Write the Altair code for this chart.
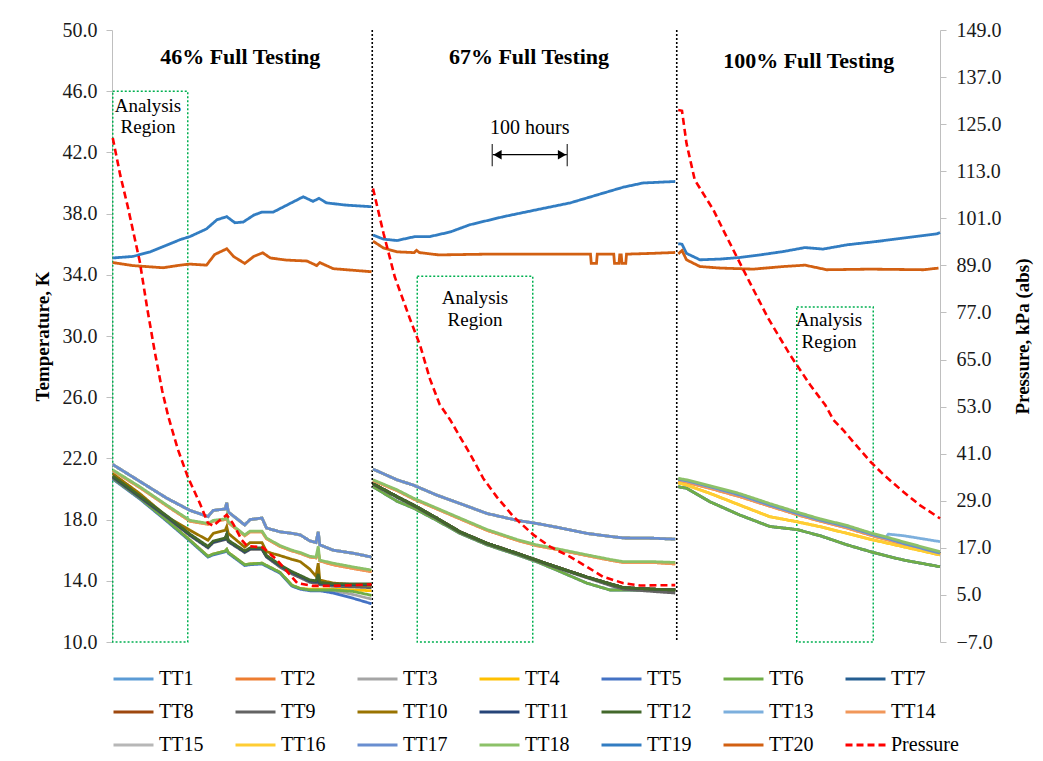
import altair as alt
import pandas as pd

FONT = "Liberation Serif"

SERIES = [f"TT{i}" for i in range(1, 21)]
COLORS = ["#5B9BD5", "#ED7D31", "#A5A5A5", "#FFC000", "#4472C4", "#70AD47", "#255E91",
          "#9E480E", "#636363", "#997300", "#264478", "#43682B", "#7CAFDD", "#F1975A",
          "#B7B7B7", "#FFCD33", "#698ED0", "#8CC168", "#327DC2", "#D26012"]
PRESSURE_NAME = "Pressure"
PRESSURE_COLOR = "#FF0000"

# ---------------- Section 1 (46% full) : lower bundle ----------------
S1_H = [1, 37, 73, 104, 128, 135, 151, 153, 155, 177, 184, 200, 206, 224, 240, 251, 264, 272, 275, 277, 295, 322, 346]
S1_TOP = [21.6, 20.5, 19.4, 18.6, 18.2, 18.6, 18.7, 19.1, 18.5, 17.65, 18.0, 18.1, 17.45, 17.2, 17.1, 17.0, 16.6, 16.5, 17.2, 16.35, 16.0, 15.8, 15.55]
S1_GREEN = [21.25, 20.15, 18.95, 17.95, 17.75, 17.95, 18.05, 18.3, 17.85, 17.0, 17.25, 17.25, 16.8, 16.3, 16.0, 15.85, 15.6, 15.55, 16.25, 15.35, 15.15, 14.9, 14.7]
S1_ORANGE = [21.2, 20.1, 18.9, 17.9, 17.7, 17.9, 18.0, 18.15, 17.8, 16.95, 17.2, 17.2, 16.75, 16.25, 15.95, 15.8, 15.55, 15.5, 15.9, 15.3, 15.05, 14.8, 14.6]
S1_TT10 = [21.0, 19.7, 18.2, 17.3, 16.65, 17.1, 17.3, 17.55, 17.1, 16.2, 16.5, 16.5, 15.9, 15.65, 15.4, 15.25, 14.75, 14.3, 15.15, 14.05, 13.85, 13.75, 13.7]
S1_DARK = [20.8, 19.5, 18.2, 17.0, 16.2, 16.55, 16.75, 17.0, 16.6, 15.9, 16.1, 16.1, 15.6, 15.0, 14.55, 14.3, 14.0, 13.95, 14.0, 13.85, 13.75, 13.75, 13.75]
S1_TT12 = [20.85, 19.55, 18.25, 17.05, 16.25, 16.6, 16.8, 17.05, 16.65, 15.95, 16.15, 16.15, 15.65, 15.05, 14.6, 14.35, 14.05, 14.0, 14.45, 13.9, 13.8, 13.8, 13.8]
S1_GRAY = [20.75, 19.45, 18.15, 16.95, 16.15, 16.5, 16.7, 16.9, 16.55, 15.85, 16.05, 16.05, 15.55, 14.9, 14.45, 14.2, 13.9, 13.85, 13.85, 13.75, 13.65, 13.6, 13.55]
S1_BOT_GREEN = [20.7, 19.4, 17.95, 16.65, 15.6, 15.75, 15.95, 16.05, 15.85, 15.05, 15.1, 15.15, 15.0, 14.55, 13.7, 13.5, 13.4, 13.4, 13.4, 13.4, 13.4, 13.3, 13.05]
S1_BOT_BLUE = [20.65, 19.35, 17.9, 16.6, 15.55, 15.7, 15.9, 16.0, 15.8, 15.0, 15.05, 15.1, 14.95, 14.5, 13.65, 13.45, 13.35, 13.35, 13.35, 13.35, 13.2, 12.85, 12.5]
S1_BOT_GRAY = [20.7, 19.4, 17.95, 16.65, 15.6, 15.75, 15.95, 16.05, 15.85, 15.05, 15.1, 15.15, 15.0, 14.55, 13.7, 13.5, 13.4, 13.4, 13.4, 13.4, 13.35, 13.1, 12.8]
S1_BOT_GOLD = [20.7, 19.4, 17.95, 16.65, 15.6, 15.75, 15.95, 16.05, 15.85, 15.05, 15.1, 15.15, 15.0, 14.55, 13.7, 13.5, 13.45, 13.45, 13.45, 13.45, 13.45, 13.4, 13.35]

# ---------------- Section 2 (67% full) : lower bundle ----------------
S2_H = [348, 380, 402, 433, 464, 500, 540, 566, 593, 633, 664, 682, 722, 751]
S2_TOP = [21.3, 20.6, 20.25, 19.6, 19.05, 18.4, 17.95, 17.75, 17.5, 17.1, 16.9, 16.8, 16.78, 16.72]
S2_GREEN = [20.6, 19.95, 19.4, 18.75, 18.1, 17.35, 16.7, 16.35, 16.1, 15.7, 15.4, 15.25, 15.25, 15.2]
S2_ORANGE = [20.55, 19.9, 19.35, 18.7, 18.05, 17.3, 16.65, 16.3, 16.05, 15.65, 15.35, 15.2, 15.2, 15.1]
S2_DARK = [20.35, 19.5, 18.95, 18.1, 17.2, 16.45, 15.8, 15.35, 14.9, 14.25, 13.8, 13.55, 13.45, 13.4]
S2_GRAY = [20.3, 19.45, 18.9, 18.05, 17.15, 16.4, 15.75, 15.3, 14.85, 14.2, 13.7, 13.45, 13.3, 13.2]
S2_BOT = [20.15, 19.2, 18.75, 17.95, 17.1, 16.35, 15.7, 15.25, 14.7, 13.85, 13.4, 13.4, 13.4, 13.4]

# ---------------- Section 3 (100% full) : lower bundle ----------------
S3_H = [755, 766, 797, 837, 877, 913, 944, 980, 1015, 1031, 1035, 1055, 1104]
S3_TOP = [20.63, 20.54, 20.15, 19.61, 18.95, 18.41, 17.97, 17.54, 17.0, 16.8, 16.75, 16.45, 15.8]
S3_GREEN = [20.7, 20.6, 20.22, 19.7, 19.05, 18.5, 18.05, 17.62, 17.08, 16.88, 16.83, 16.55, 15.9]
S3_ORANGE = [20.55, 20.45, 20.05, 19.5, 18.88, 18.33, 17.9, 17.45, 16.93, 16.72, 16.67, 16.38, 15.7]
S3_GOLD = [20.4, 20.26, 19.72, 18.95, 18.19, 17.86, 17.54, 17.1, 16.67, 16.5, 16.45, 16.23, 15.69]
S3_TT13 = [20.63, 20.54, 20.15, 19.61, 18.95, 18.41, 17.97, 17.54, 17.0, 16.8, 17.05, 16.95, 16.56]
S3_BOT = [20.15, 20.05, 19.17, 18.3, 17.55, 17.35, 16.95, 16.35, 15.85, 15.65, 15.6, 15.36, 14.92]

# ---------------- TT19 / TT20 (upper pair) ----------------
TT19_S1_H = [1, 28, 51, 71, 91, 104, 126, 140, 153, 164, 175, 189, 200, 215, 233, 255, 268, 276, 286, 313, 346]
TT19_S1 = [35.1, 35.2, 35.5, 35.9, 36.3, 36.5, 37.0, 37.6, 37.8, 37.4, 37.45, 37.9, 38.1, 38.1, 38.55, 39.1, 38.8, 39.0, 38.7, 38.55, 38.45]
TT20_S1_H = [1, 28, 68, 91, 104, 126, 137, 153, 162, 177, 189, 201, 211, 233, 260, 273, 277, 295, 346]
TT20_S1 = [34.8, 34.6, 34.46, 34.63, 34.7, 34.63, 35.33, 35.7, 35.2, 34.74, 35.2, 35.44, 35.1, 34.96, 34.9, 34.6, 34.8, 34.4, 34.2]

TT19_S2_H = [348, 362, 380, 404, 424, 451, 477, 522, 566, 611, 655, 682, 708, 751]
TT19_S2 = [36.6, 36.33, 36.24, 36.5, 36.5, 36.8, 37.27, 37.8, 38.25, 38.7, 39.34, 39.73, 40.0, 40.1]
TT20_S2_H = [348, 362, 380, 403, 406, 410, 436, 500, 600, 638, 639, 646, 647, 669, 670, 676, 677, 679, 680, 685, 686, 720, 751]
TT20_S2 = [36.2, 35.75, 35.5, 35.45, 35.6, 35.45, 35.3, 35.35, 35.35, 35.35, 34.75, 34.75, 35.35, 35.35, 34.75, 34.75, 35.3, 35.3, 34.75, 34.75, 35.35, 35.4, 35.46]

TT19_S3_H = [755, 760, 766, 784, 811, 837, 864, 895, 924, 948, 980, 1020, 1055, 1100, 1104]
TT19_S3 = [36.03, 36.0, 35.4, 34.98, 35.03, 35.13, 35.3, 35.52, 35.78, 35.68, 35.96, 36.18, 36.4, 36.68, 36.76]
TT20_S3_H = [755, 760, 766, 784, 811, 855, 895, 924, 953, 1011, 1082, 1102]
TT20_S3 = [35.37, 35.59, 34.98, 34.54, 34.44, 34.37, 34.54, 34.63, 34.33, 34.37, 34.33, 34.44]

# ---------------- Pressure (right axis, kPa abs) ----------------
P_S1_H = [1, 11, 21, 37, 47, 57, 67, 75, 88, 101, 117, 128, 135, 144, 153, 161, 173, 180, 201, 220, 247, 268, 295, 321, 346]
P_S1 = [121.5, 112, 104, 90, 78, 67, 57, 50.5, 42, 35.1, 28.4, 23.3, 22.6, 24.1, 25.4, 23.3, 19, 17.5, 17.1, 13.9, 8, 7.3, 7.3, 7.5, 7.7]
P_S2_H = [348, 362, 377, 397, 411, 424, 437, 451, 464, 477, 495, 513, 535, 562, 584, 611, 633, 655, 682, 704, 751]
P_S2 = [108.6, 97.2, 86.1, 75.5, 68.5, 60, 53.5, 49.6, 45.3, 41.1, 34.7, 30.0, 25.0, 20.3, 17.3, 14.7, 12.2, 9.6, 8.0, 7.4, 7.5]
P_S3_H = [755, 760, 766, 777, 788, 802, 815, 833, 851, 875, 904, 931, 951, 962, 975, 988, 1011, 1029, 1055, 1077, 1104]
P_S3 = [128.6, 128.4, 120.1, 110.8, 107.4, 103.1, 98.0, 91.2, 84.4, 75.5, 66.2, 58.5, 53.4, 49.6, 47.0, 44.1, 39.0, 35.6, 31.3, 27.9, 24.5]

# ---------------- Annotations ----------------
DIVIDERS_H = [347, 753]
TITLES = ["46% Full Testing", "67% Full Testing", "100% Full Testing"]
TITLE_H = [171, 556, 929]
TITLE_T = [48.25, 48.25, 47.95]
REGION_H1 = [1, 407, 913]
REGION_H2 = [101, 561, 1015]
REGION_TOP = [46.0, 33.9, 31.9]
REGION_BOTTOM = [10.0, 10.0, 10.0]
REGION_LABEL_H = [48, 484, 956]
REGION_LABEL_T1 = [45.05, 32.5, 31.06]
REGION_LABEL_T2 = [43.67, 31.06, 29.6]
SPAN_H1, SPAN_H2, SPAN_T = 507, 607, 41.85
SPAN_TICK_T = [42.55, 41.1]
SPAN_LABEL_T = 43.6

# ---------------- series -> profile per section ----------------
SEC1 = {"TT1": S1_TOP, "TT2": S1_ORANGE, "TT3": S1_BOT_GRAY, "TT4": S1_BOT_GOLD, "TT5": S1_BOT_BLUE,
        "TT6": S1_BOT_GREEN, "TT7": S1_DARK, "TT8": S1_DARK, "TT9": S1_GRAY, "TT10": S1_TT10,
        "TT11": S1_DARK, "TT12": S1_TT12, "TT13": S1_TOP, "TT14": S1_ORANGE, "TT15": S1_TOP,
        "TT16": S1_TOP, "TT17": S1_TOP, "TT18": S1_GREEN}
SEC2 = {"TT1": S2_TOP, "TT2": S2_ORANGE, "TT3": S2_DARK, "TT4": S2_DARK, "TT5": S2_BOT,
        "TT6": S2_BOT, "TT7": S2_DARK, "TT8": S2_DARK, "TT9": S2_GRAY, "TT10": S2_DARK,
        "TT11": S2_DARK, "TT12": S2_DARK, "TT13": S2_TOP, "TT14": S2_ORANGE, "TT15": S2_TOP,
        "TT16": S2_TOP, "TT17": S2_TOP, "TT18": S2_GREEN}
SEC3 = {"TT1": S3_TOP, "TT2": S3_ORANGE, "TT3": S3_BOT, "TT4": S3_GOLD, "TT5": S3_BOT,
        "TT6": S3_BOT, "TT7": S3_TOP, "TT8": S3_TOP, "TT9": S3_TOP, "TT10": S3_TOP,
        "TT11": S3_TOP, "TT12": S3_TOP, "TT13": S3_TT13, "TT14": S3_ORANGE, "TT15": S3_TOP,
        "TT16": S3_GOLD, "TT17": S3_TOP, "TT18": S3_GREEN}

rows = []


def add(series, section, hs, vals):
    for h, v in zip(hs, vals):
        rows.append({"series": series, "section": section, "h": h, "T": v})


for s in SERIES:
    if s == "TT19":
        add(s, 1, TT19_S1_H, TT19_S1)
        add(s, 2, TT19_S2_H, TT19_S2)
        add(s, 3, TT19_S3_H, TT19_S3)
    elif s == "TT20":
        add(s, 1, TT20_S1_H, TT20_S1)
        add(s, 2, TT20_S2_H, TT20_S2)
        add(s, 3, TT20_S3_H, TT20_S3)
    else:
        add(s, 1, S1_H, SEC1[s])
        add(s, 2, S2_H, SEC2[s])
        add(s, 3, S3_H, SEC3[s])
temps = pd.DataFrame(rows)

prow = []
for sec, hs, ps in [(1, P_S1_H, P_S1), (2, P_S2_H, P_S2), (3, P_S3_H, P_S3)]:
    for h, p in zip(hs, ps):
        prow.append({"series": PRESSURE_NAME, "section": sec, "h": h, "P": p})
pres = pd.DataFrame(prow)

# ---------------- encodings ----------------
DOMAIN = SERIES + [PRESSURE_NAME]
x_enc = alt.X("h:Q", scale=alt.Scale(domain=[0, 1104], nice=False, zero=False), axis=None)

left_axis = alt.Axis(values=list(range(10, 51, 4)), format=".1f", title="Temperature, K",
                     titleFont=FONT, titleFontSize=19, titleFontWeight="bold", titleColor="#000000",
                     titlePadding=10, labelFont=FONT, labelFontSize=20, labelColor="#1a1a1a",
                     domainColor="#BFBFBF", tickColor="#BFBFBF", tickSize=6, labelPadding=9, grid=False)
y_left = alt.Y("T:Q", scale=alt.Scale(domain=[10, 50], nice=False, zero=False), axis=left_axis)

right_axis = alt.Axis(values=list(range(-7, 150, 12)), format=".1f", title="Pressure, kPa (abs)",
                      orient="right", titleAngle=270, titleBaseline="top",
                      titleFont=FONT, titleFontSize=19, titleFontWeight="bold", titleColor="#000000",
                      titlePadding=12, labelFont=FONT, labelFontSize=20, labelColor="#1a1a1a",
                      domainColor="#BFBFBF", tickColor="#BFBFBF", tickSize=6, labelPadding=10, grid=False)
y_right = alt.Y("P:Q", scale=alt.Scale(domain=[-7, 149], nice=False, zero=False), axis=right_axis)

legend = alt.Legend(title=None, orient="none", legendX=0, legendY=639, columns=7, direction="horizontal",
                    gridAlign="all", columnPadding=7, rowPadding=13, symbolType="stroke", symbolSize=1600,
                    symbolStrokeWidth=3, clipHeight=20, labelFont=FONT, labelFontSize=20,
                    labelColor="#000000", labelOffset=4)
color_enc = alt.Color("series:N", scale=alt.Scale(domain=DOMAIN, range=COLORS + [PRESSURE_COLOR]), legend=legend)
dash_enc = alt.StrokeDash("series:N", scale=alt.Scale(domain=DOMAIN, range=[[1, 0]] * 20 + [[7, 4]]), legend=legend)

temp_lines = alt.Chart(temps).mark_line(strokeWidth=2.8).encode(
    x=x_enc, y=y_left, color=color_enc, strokeDash=dash_enc, detail="section:N")

pres_lines = alt.Chart(pres).mark_line(strokeWidth=2.6).encode(
    x=x_enc, y=y_right, color=color_enc, strokeDash=dash_enc, detail="section:N")

div_df = pd.DataFrame({"h": DIVIDERS_H})
dividers = alt.Chart(div_df).mark_rule(color="#000000", strokeDash=[2, 2], strokeWidth=1.6).encode(x=x_enc)

reg_df = pd.DataFrame({"h": REGION_H1, "h2": REGION_H2, "T": REGION_TOP, "T2": REGION_BOTTOM})
regions = alt.Chart(reg_df).mark_rect(fill="transparent", stroke="#00B050", strokeDash=[2, 2],
                                      strokeWidth=1.5).encode(x=x_enc, x2="h2:Q", y=y_left, y2="T2:Q")

lab_df = pd.DataFrame({"h": REGION_LABEL_H * 2,
                       "T": REGION_LABEL_T1 + REGION_LABEL_T2,
                       "label": ["Analysis"] * 3 + ["Region"] * 3})
region_labels = alt.Chart(lab_df).mark_text(font=FONT, fontSize=19, color="#000000", align="center",
                                            baseline="middle").encode(x=x_enc, y=y_left, text="label:N")

tit_df = pd.DataFrame({"h": TITLE_H, "T": TITLE_T, "label": TITLES})
titles = alt.Chart(tit_df).mark_text(font=FONT, fontSize=22, fontWeight="bold", color="#000000",
                                     align="center", baseline="middle").encode(x=x_enc, y=y_left, text="label:N")

span_df = pd.DataFrame({"h": [SPAN_H1], "h2": [SPAN_H2], "T": [SPAN_T]})
span_line = alt.Chart(span_df).mark_rule(color="#000000", strokeWidth=1.3).encode(x=x_enc, x2="h2:Q", y=y_left)

tick_df = pd.DataFrame({"h": [SPAN_H1, SPAN_H2], "T": [SPAN_TICK_T[0]] * 2, "T2": [SPAN_TICK_T[1]] * 2})
span_ticks = alt.Chart(tick_df).mark_rule(color="#404040", strokeWidth=1.3).encode(x=x_enc, y=y_left, y2="T2:Q")

head_l = alt.Chart(pd.DataFrame({"h": [SPAN_H1 + 7], "T": [SPAN_T]})).mark_point(
    shape="triangle-left", filled=True, color="#000000", size=90, opacity=1).encode(x=x_enc, y=y_left)
head_r = alt.Chart(pd.DataFrame({"h": [SPAN_H2 - 7], "T": [SPAN_T]})).mark_point(
    shape="triangle-right", filled=True, color="#000000", size=90, opacity=1).encode(x=x_enc, y=y_left)

span_label = alt.Chart(pd.DataFrame({"h": [(SPAN_H1 + SPAN_H2) / 2], "T": [SPAN_LABEL_T], "label": ["100 hours"]})).mark_text(
    font=FONT, fontSize=20, color="#000000", align="center", baseline="middle").encode(x=x_enc, y=y_left, text="label:N")

left = alt.layer(regions, dividers, temp_lines, region_labels, titles, span_line, span_ticks,
                 head_l, head_r, span_label)

chart = alt.layer(left, pres_lines).resolve_scale(y="independent").properties(
    width=828, height=612,
    autosize=alt.AutoSizeParams(type="none"),
    padding={"left": 104, "top": 22, "right": 95, "bottom": 116},
    background="#FFFFFF",
).configure_view(strokeWidth=0)

chart.save("out.html", embed_options={"renderer": "svg", "actions": False})
